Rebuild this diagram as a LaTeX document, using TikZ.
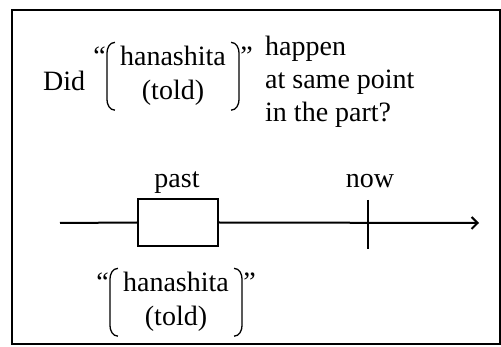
\documentclass[tikz,border=0pt]{standalone}
\usepackage{fontspec}
\setmainfont{Liberation Serif}
\usepackage{tikz}
\usetikzlibrary{positioning,calc,arrows.meta}

\tikzset{
  word/.style={font=\fontsize{28}{33}\selectfont, inner sep=0pt},
  paren/.style={line width=1.3pt},
  pastbox/.style={draw, line width=1.5pt, fill=white, minimum width=80pt, minimum height=47pt, inner sep=0pt}
}

% round brackets around a two-line group (#1 top line, #2 bottom line)
\newcommand{\parens}[2]{%
  \draw[paren] let \p1=(#1.north west), \p2=(#1.north east), \p3=(#2.south) in
    (\x1-5pt,\y1+4pt) to[out=180,in=90] (\x1-13pt,\y1-7pt) -- (\x1-13pt,\y3+7pt) to[out=-90,in=180] (\x1-5pt,\y3-4pt)
    (\x2+5pt,\y1+4pt) to[out=0,in=90] (\x2+13pt,\y1-7pt) -- (\x2+13pt,\y3+7pt) to[out=-90,in=0] (\x2+5pt,\y3-4pt);
}

\begin{document}
\begin{tikzpicture}[x=1pt,y=-1pt]
  \useasboundingbox (0,0) rectangle (501,347);
  \draw[line width=2pt] (12,10) rectangle (500,344);

  % question
  \node[word,anchor=base west] (did) at (43,91) {Did};
  \node[word,anchor=base] (hanaA) at (173,66) {hanashita};
  \node[word,anchor=base] (toldA) at ([yshift=-34pt]hanaA.base) {(told)};
  \parens{hanaA}{toldA}
  \node[word,anchor=base east] (lqA) at ([xshift=-14pt]hanaA.base west) {“};
  \node[word,anchor=base west] (rqA) at ([xshift=14pt]hanaA.base east) {”};
  \node[word,anchor=base west] (happen) at (265,56) {happen};
  \node[word,anchor=base west] (same) at ([yshift=-33pt]happen.base west) {at same point};
  \node[word,anchor=base west] (part) at ([yshift=-33pt]same.base west) {in the part?};

  % time line
  \coordinate (start) at (60,223);
  \coordinate (end) at (479,223);
  \node[pastbox] (box) at (178,222.5) {};
  \draw[line width=2pt,-{Straight Barb[length=6pt,width=12pt,line width=2pt]}] (start) -- (box.west) (box.east) -- (end);
  \coordinate (tickT) at (368,200);
  \coordinate (tickB) at (368,249);
  \draw[line width=2pt] (tickT) -- (tickB);
  \node[word,anchor=base] (past) at (177,188) {past};
  \node[word,anchor=base] (now) at (370,188) {now};

  % answer
  \node[word,anchor=base] (hanaB) at (176,292) {hanashita};
  \node[word,anchor=base] (toldB) at ([yshift=-34pt]hanaB.base) {(told)};
  \parens{hanaB}{toldB}
  \node[word,anchor=base east] (lqB) at ([xshift=-14pt]hanaB.base west) {“};
  \node[word,anchor=base west] (rqB) at ([xshift=14pt]hanaB.base east) {”};
\end{tikzpicture}
\end{document}
